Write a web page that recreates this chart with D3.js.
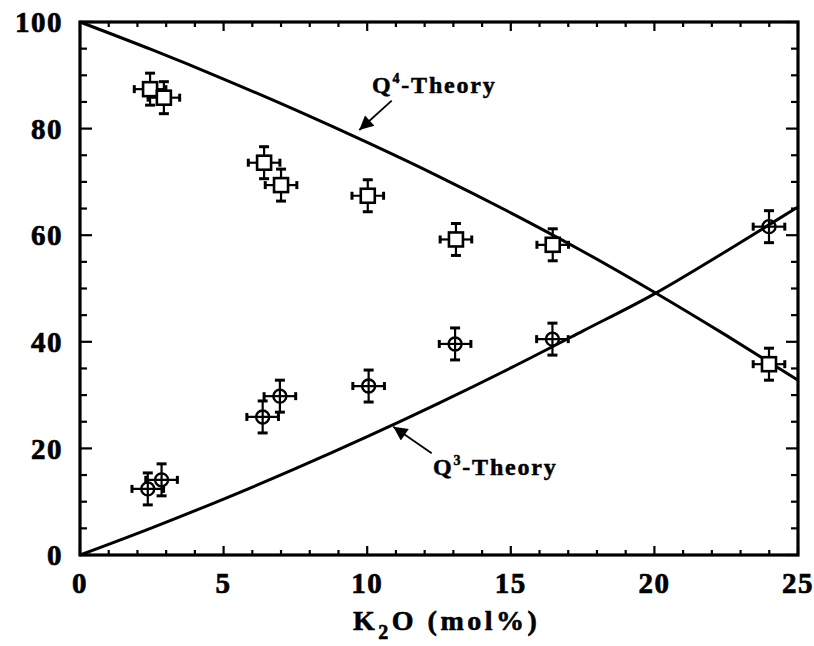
<!DOCTYPE html>
<html>
<head>
<meta charset="utf-8">
<script src="https://cdn.jsdelivr.net/npm/d3@7"></script>
<style>
  html, body { margin: 0; padding: 0; background: #fff; }
  svg { display: block; }
</style>
</head>
<body>
<svg id="chart" width="814" height="646"></svg>
<script>
// Q4 and Q3 fractions (%) versus K2O content (mol%)
const q4X = [2.44, 2.92, 6.41, 7.00, 10.02, 13.09, 16.46, 23.99];
const q4Y = [87.4, 85.8, 73.6, 69.4, 67.4, 59.2, 58.2, 35.8];
const q3X = [2.36, 2.84, 6.36, 6.96, 10.05, 13.06, 16.45, 23.99];
const q3Y = [12.4, 14.1, 25.9, 29.8, 31.7, 39.6, 40.5, 61.6];
const errX = 0.55;   // ± mol%
const errY = 3.0;    // ± %

// Binary-model theory curves
const theoryX = [0, 2.5, 5, 7.5, 10, 12.5, 15, 17.5, 20, 22.5, 25];
const q3Theory = [0, 5.1, 10.5, 16.2, 22.2, 28.5, 35.1, 42.0, 49.0, 57.0, 65.3];
const q4Theory = [100, 94.8, 89.3, 83.5, 77.4, 71.0, 64.2, 57.0, 49.3, 41.2, 32.8];

const xTicks = [0, 5, 10, 15, 20, 25];
const yTicks = [0, 20, 40, 60, 80, 100];

const FONT = "Liberation Serif";
const svg = d3.select("#chart");
const x = d3.scaleLinear().domain([0, 25]).range([80, 798]);
const y = d3.scaleLinear().domain([0, 100]).range([555, 22]);

const ink = "#000";

// inward ticks on all four sides
const xMinor = d3.range(0, 26, 1);
const yMinor = d3.range(0, 101, 5);
const tickG = svg.append("g").attr("stroke", ink).attr("stroke-width", 2.2);
xMinor.forEach(v => {
  const len = v % 5 === 0 ? 9 : 5;
  tickG.append("line").attr("x1", x(v)).attr("x2", x(v)).attr("y1", y(0)).attr("y2", y(0) - len);
  tickG.append("line").attr("x1", x(v)).attr("x2", x(v)).attr("y1", y(100)).attr("y2", y(100) + len);
});
yMinor.forEach(v => {
  const len = v % 20 === 0 ? 12 : 7;
  tickG.append("line").attr("x1", x(0)).attr("x2", x(0) + len).attr("y1", y(v)).attr("y2", y(v));
  tickG.append("line").attr("x1", x(25)).attr("x2", x(25) - len).attr("y1", y(v)).attr("y2", y(v));
});

// frame
svg.append("rect")
  .attr("x", x(0)).attr("y", y(100))
  .attr("width", x(25) - x(0)).attr("height", y(0) - y(100))
  .attr("fill", "none").attr("stroke", ink).attr("stroke-width", 3.2);

// tick labels
svg.append("g").selectAll("text").data(xTicks).join("text")
  .attr("x", d => x(d)).attr("y", 593)
  .attr("text-anchor", "middle")
  .attr("font-family", FONT).attr("font-weight", 700)
  .attr("font-size", 29).attr("letter-spacing", 1.5)
  .attr("fill", ink).attr("stroke", ink).attr("stroke-width", 0.7)
  .text(d => d);
svg.append("g").selectAll("text").data(yTicks).join("text")
  .attr("x", 63).attr("y", d => y(d))
  .attr("dy", "0.35em")
  .attr("text-anchor", "end")
  .attr("font-family", FONT).attr("font-weight", 700)
  .attr("font-size", 29).attr("letter-spacing", 1.5)
  .attr("fill", ink).attr("stroke", ink).attr("stroke-width", 0.7)
  .text(d => d);

// x-axis title: K2O (mol%)
const xt = svg.append("text")
  .attr("x", 353).attr("y", 630)
  .attr("font-family", FONT).attr("font-weight", 700)
  .attr("font-size", 28).attr("letter-spacing", 3.5)
  .attr("fill", ink).attr("stroke", ink).attr("stroke-width", 0.6);
xt.append("tspan").text("K");
xt.append("tspan").attr("font-size", 20).attr("dy", 9).text("2");
xt.append("tspan").attr("dy", -9).text("O (mol%)");

// theory curves
const line = d3.line().x(d => x(d[0])).y(d => y(d[1])).curve(d3.curveMonotoneX);
svg.append("path")
  .datum(theoryX.map((v, i) => [v, q4Theory[i]]))
  .attr("d", line).attr("fill", "none").attr("stroke", ink).attr("stroke-width", 3);
svg.append("path")
  .datum(theoryX.map((v, i) => [v, q3Theory[i]]))
  .attr("d", line).attr("fill", "none").attr("stroke", ink).attr("stroke-width", 3);

// error bars with caps
function errorBars(g, xs, ys) {
  xs.forEach((xv, i) => {
    const yv = ys[i];
    const cx = x(xv), cy = y(yv);
    const x0 = x(xv - errX), x1 = x(xv + errX);
    const y0 = y(yv - errY), y1 = y(yv + errY);
    g.append("line").attr("x1", x0).attr("x2", x1).attr("y1", cy).attr("y2", cy);
    g.append("line").attr("x1", cx).attr("x2", cx).attr("y1", y0).attr("y2", y1);
    g.append("line").attr("x1", x0).attr("x2", x0).attr("y1", cy - 4).attr("y2", cy + 4).attr("stroke-width", 3);
    g.append("line").attr("x1", x1).attr("x2", x1).attr("y1", cy - 4).attr("y2", cy + 4).attr("stroke-width", 3);
    g.append("line").attr("x1", cx - 5).attr("x2", cx + 5).attr("y1", y0).attr("y2", y0).attr("stroke-width", 3);
    g.append("line").attr("x1", cx - 5).attr("x2", cx + 5).attr("y1", y1).attr("y2", y1).attr("stroke-width", 3);
  });
}

// Q3: open circles with error bars crossing through
const g3 = svg.append("g").attr("stroke", ink).attr("stroke-width", 2.2);
errorBars(g3, q3X, q3Y);
g3.selectAll("circle").data(q3X).join("circle")
  .attr("cx", d => x(d)).attr("cy", (d, i) => y(q3Y[i]))
  .attr("r", 6.5).attr("fill", "none").attr("stroke-width", 2.4);

// Q4: open squares on top of error bars
const g4 = svg.append("g").attr("stroke", ink).attr("stroke-width", 2.2);
errorBars(g4, q4X, q4Y);
const sq = 14;
g4.selectAll("rect").data(q4X).join("rect")
  .attr("x", d => x(d) - sq / 2).attr("y", (d, i) => y(q4Y[i]) - sq / 2)
  .attr("width", sq).attr("height", sq)
  .attr("fill", "#fff").attr("stroke-width", 2.6);

// annotations
svg.append("defs").append("marker")
  .attr("id", "head").attr("viewBox", "0 0 10 10")
  .attr("refX", 10).attr("refY", 5)
  .attr("markerWidth", 18).attr("markerHeight", 14)
  .attr("markerUnits", "userSpaceOnUse")
  .attr("orient", "auto")
  .append("path").attr("d", "M0,0 L10,5 L0,10 Z").attr("fill", ink);

svg.append("line")
  .attr("x1", 391.7).attr("y1", 100.7).attr("x2", 359.3).attr("y2", 130)
  .attr("stroke", ink).attr("stroke-width", 1.8).attr("marker-end", "url(#head)");
svg.append("line")
  .attr("x1", 431.7).attr("y1", 453.3).attr("x2", 393.3).attr("y2", 426.7)
  .attr("stroke", ink).attr("stroke-width", 1.8).attr("marker-end", "url(#head)");

function theoryLabel(px, py, sup) {
  const t = svg.append("text").attr("x", px).attr("y", py)
    .attr("font-family", FONT).attr("font-weight", 700)
    .attr("font-size", 24).attr("letter-spacing", 1.8)
    .attr("fill", ink).attr("stroke", ink).attr("stroke-width", 0.5);
  t.append("tspan").text("Q");
  t.append("tspan").attr("font-size", 14).attr("dy", -10).text(sup);
  t.append("tspan").attr("dy", 10).text("-Theory");
}
theoryLabel(372, 93, "4");
theoryLabel(433, 475, "3");
</script>
</body>
</html>
